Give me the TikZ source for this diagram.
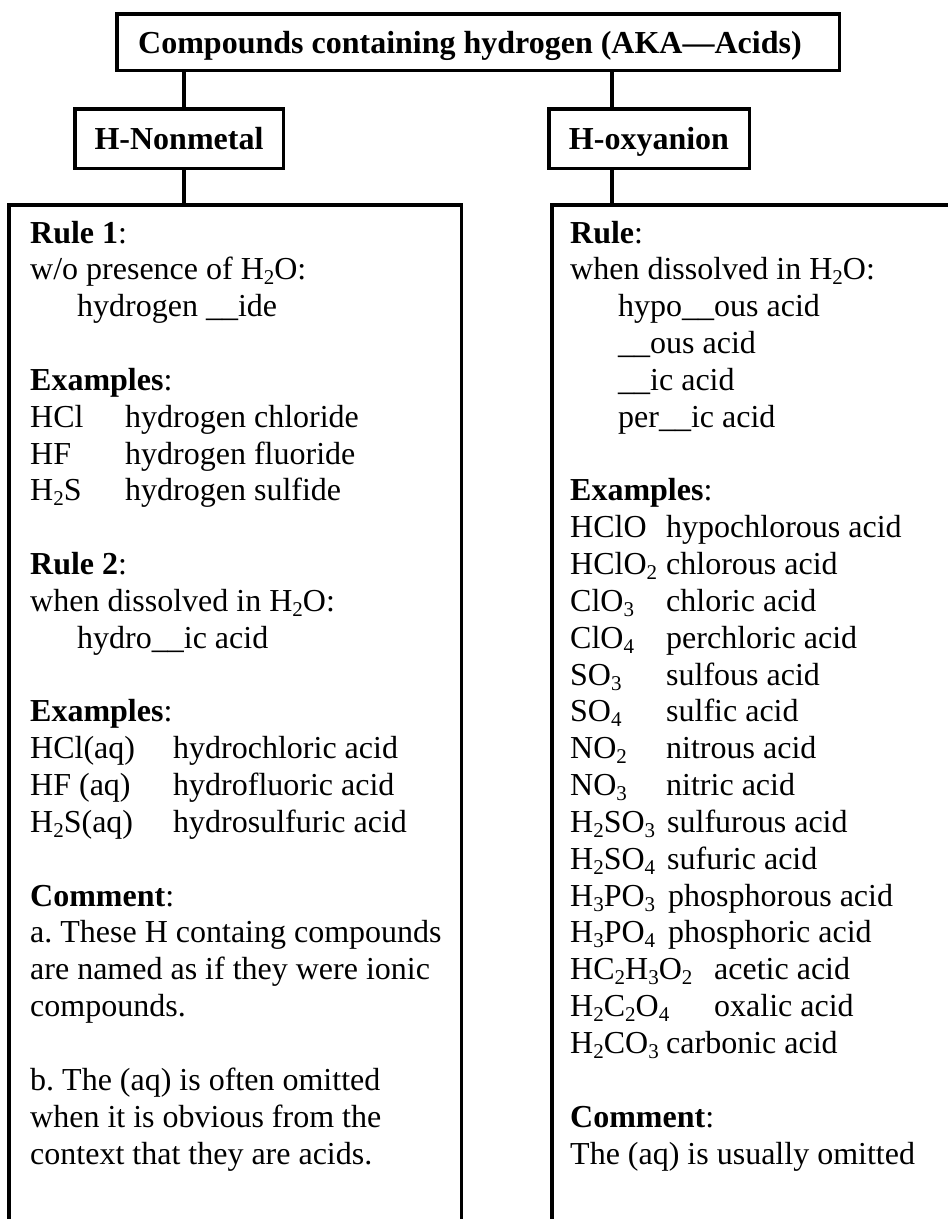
\documentclass[tikz,border=0pt]{standalone}
\usepackage{fontspec}
\setmainfont{Liberation Serif}
\frenchspacing
\newcommand\sbs[1]{\raisebox{-5pt}{\fontsize{21}{21}\selectfont #1}}
\tikzset{
  box/.style={draw, line width=3.5pt, inner sep=0pt, text height=22pt, text depth=0pt,
              font=\fontsize{32}{36.84}\selectfont\bfseries},
  txt/.style={anchor=base west, inner sep=0pt, font=\fontsize{32}{36.84}\selectfont},
  wire/.style={line width=3.5pt},
  panel/.style={line width=3.5pt, line join=miter},
}
\begin{document}
\begin{tikzpicture}[x=1pt,y=-1pt]
\clip (0,0) rectangle (948,1219);
\fill[white] (0,0) rectangle (948,1219);

% header boxes
\node[box, minimum width=722.5pt, minimum height=56.5pt] (title) at (478,42) {Compounds containing hydrogen (AKA—Acids)\hspace*{16pt}};
\node[box, minimum width=208.5pt, minimum height=59.5pt] (hnm) at (179,138.5) {H-Nonmetal};
\node[box, minimum width=200.5pt, minimum height=59.5pt] (hox) at (649,138.5) {H-oxyanion};

% panel tops and connector columns
\coordinate (lx) at (184,0);
\coordinate (rx) at (612,0);
\coordinate (ltop) at (184,204.75);
\coordinate (rtop) at (612,204.75);

% open-bottom panels
\draw[panel] (8.75,1240) |- (461.25,204.75) -- (461.25,1240);
\draw[panel] (551.75,1240) |- (970,204.75);

% connectors
\draw[wire] (title.south -| lx) -- (hnm.north -| lx);
\draw[wire] (hnm.south -| lx) -- (ltop);
\draw[wire] (title.south -| rx) -- (hox.north -| rx);
\draw[wire] (hox.south -| rx) -- (rtop);

% left column
\node[txt] (L0) at (30,243) {\textbf{Rule 1}:};
\node[txt] (L1) at (30,279.84) {w/o presence of H\sbs{2}O:};
\node[txt] (L2) at (77,316.68) {hydrogen \_\_ide};
\node[txt] (L4) at (30,390.36) {\textbf{Examples}:};
\node[txt] (L5a) at (30,427.2) {HCl};
\node[txt] (L5b) at (125,427.2) {hydrogen chloride};
\node[txt] (L6a) at (30,464.04) {HF};
\node[txt] (L6b) at (125,464.04) {hydrogen fluoride};
\node[txt] (L7a) at (30,500.88) {H\sbs{2}S};
\node[txt] (L7b) at (125,500.88) {hydrogen sulfide};
\node[txt] (L9) at (30,574.56) {\textbf{Rule 2}:};
\node[txt] (L10) at (30,611.4) {when dissolved in H\sbs{2}O:};
\node[txt] (L11) at (77,648.24) {hydro\_\_ic acid};
\node[txt] (L13) at (30,721.92) {\textbf{Examples}:};
\node[txt] (L14a) at (30,758.76) {HCl(aq)};
\node[txt] (L14b) at (173,758.76) {hydrochloric acid};
\node[txt] (L15a) at (30,795.6) {HF (aq)};
\node[txt] (L15b) at (173,795.6) {hydrofluoric acid};
\node[txt] (L16a) at (30,832.44) {H\sbs{2}S(aq)};
\node[txt] (L16b) at (173,832.44) {hydrosulfuric acid};
\node[txt] (L18) at (30,906.12) {\textbf{Comment}:};
\node[txt] (L19) at (30,942.96) {a. These H containg compounds};
\node[txt] (L20) at (30,979.8) {are named as if they were ionic};
\node[txt] (L21) at (30,1016.64) {compounds.};
\node[txt] (L23) at (30,1090.32) {b. The (aq) is often omitted};
\node[txt] (L24) at (30,1127.16) {when it is obvious from the};
\node[txt] (L25) at (30,1164) {context that they are acids.};

% right column
\node[txt] (R0) at (570,243) {\textbf{Rule}:};
\node[txt] (R1) at (570,279.84) {when dissolved in H\sbs{2}O:};
\node[txt] (R2) at (618,316.68) {hypo\_\_ous acid};
\node[txt] (R3) at (618,353.52) {\_\_ous acid};
\node[txt] (R4) at (618,390.36) {\_\_ic acid};
\node[txt] (R5) at (618,427.2) {per\_\_ic acid};
\node[txt] (R7) at (570,500.88) {\textbf{Examples}:};
\node[txt] (R8a) at (570,537.72) {HClO};
\node[txt] (R8b) at (666,537.72) {hypochlorous acid};
\node[txt] (R9a) at (570,574.56) {HClO\sbs{2}};
\node[txt] (R9b) at (666,574.56) {chlorous acid};
\node[txt] (R10a) at (570,611.4) {ClO\sbs{3}};
\node[txt] (R10b) at (666,611.4) {chloric acid};
\node[txt] (R11a) at (570,648.24) {ClO\sbs{4}};
\node[txt] (R11b) at (666,648.24) {perchloric acid};
\node[txt] (R12a) at (570,685.08) {SO\sbs{3}};
\node[txt] (R12b) at (666,685.08) {sulfous acid};
\node[txt] (R13a) at (570,721.92) {SO\sbs{4}};
\node[txt] (R13b) at (666,721.92) {sulfic acid};
\node[txt] (R14a) at (570,758.76) {NO\sbs{2}};
\node[txt] (R14b) at (666,758.76) {nitrous acid};
\node[txt] (R15a) at (570,795.6) {NO\sbs{3}};
\node[txt] (R15b) at (666,795.6) {nitric acid};
\node[txt] (R16a) at (570,832.44) {H\sbs{2}SO\sbs{3}};
\node[txt] (R16b) at (667,832.44) {sulfurous acid};
\node[txt] (R17a) at (570,869.28) {H\sbs{2}SO\sbs{4}};
\node[txt] (R17b) at (667,869.28) {sufuric acid};
\node[txt] (R18a) at (570,906.12) {H\sbs{3}PO\sbs{3}};
\node[txt] (R18b) at (668,906.12) {phosphorous acid};
\node[txt] (R19a) at (570,942.96) {H\sbs{3}PO\sbs{4}};
\node[txt] (R19b) at (668,942.96) {phosphoric acid};
\node[txt] (R20a) at (570,979.8) {HC\sbs{2}H\sbs{3}O\sbs{2}};
\node[txt] (R20b) at (714,979.8) {acetic acid};
\node[txt] (R21a) at (570,1016.64) {H\sbs{2}C\sbs{2}O\sbs{4}};
\node[txt] (R21b) at (714,1016.64) {oxalic acid};
\node[txt] (R22a) at (570,1053.48) {H\sbs{2}CO\sbs{3}};
\node[txt] (R22b) at (666,1053.48) {carbonic acid};
\node[txt] (R24) at (570,1127.16) {\textbf{Comment}:};
\node[txt] (R25) at (570,1164) {The (aq) is usually omitted};
\end{tikzpicture}
\end{document}
